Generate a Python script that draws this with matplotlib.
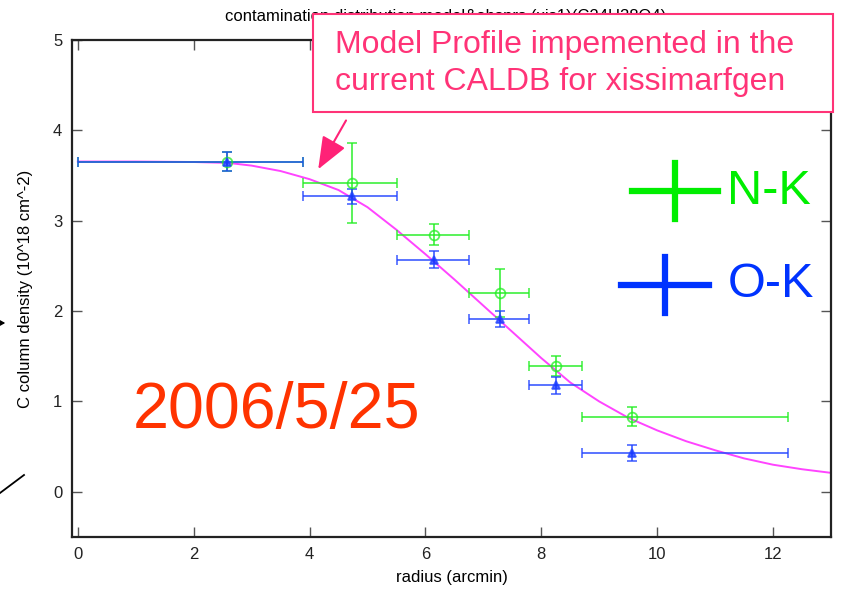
import numpy as np
import matplotlib
matplotlib.use("Agg")
import matplotlib.pyplot as plt
from matplotlib.patches import Rectangle, FancyArrowPatch
from matplotlib.lines import Line2D

plt.rcParams.update({
    "font.family": ["Liberation Sans", "DejaVu Sans"],
    "font.size": 12,
})

# N-K measurements
nk_r = [2.58, 4.74, 6.15, 7.28, 8.25, 9.57]
nk_c = [3.655, 3.415, 2.845, 2.197, 1.39, 0.833]
nk_cerr = [0.11, 0.44, 0.115, 0.265, 0.11, 0.11]

# O-K measurements
ok_r = [2.58, 4.74, 6.15, 7.28, 8.25, 9.57]
ok_c = [3.655, 3.27, 2.567, 1.915, 1.18, 0.427]
ok_cerr = [0.105, 0.085, 0.095, 0.09, 0.095, 0.09]

# radial bin edges (shared by both lines)
bin_lo = [0.0, 3.89, 5.51, 6.75, 7.78, 8.70]
bin_hi = [3.89, 5.51, 6.75, 7.78, 8.70, 12.25]

# model profile
model_r = [0, 1, 2, 2.6, 3.0, 3.5, 4.0, 4.5, 5.0, 5.5, 6.0, 6.5, 7.0,
           7.5, 8.0, 8.5, 9.0, 9.5, 10.0, 10.5, 11.0, 11.5, 12.0, 12.5, 13.0]
model_c = [3.655, 3.655, 3.65, 3.64, 3.61, 3.55, 3.46, 3.34, 3.15, 2.90,
           2.63, 2.35, 2.06, 1.77, 1.48, 1.21, 1.00, 0.82, 0.68, 0.56,
           0.46, 0.37, 0.30, 0.25, 0.21]

PINK = "#ff3377"

fig = plt.figure(figsize=(8.42, 5.92), dpi=100)
ax = fig.add_axes([0.0855, 0.0929, 0.9014, 0.8395])

ax.plot(model_r, model_c, color="#ff44ff", lw=1.4, zorder=1)


def bars(r, c, cerr, color, fmt, mfc, ms):
    r = np.array(r)
    xerr = [r - np.array(bin_lo), np.array(bin_hi) - r]
    ax.errorbar(r, c, yerr=cerr, xerr=xerr, fmt=fmt, color=color,
                ecolor=color, elinewidth=1.4, capsize=3.5, capthick=1.4,
                mfc=mfc, mec=color, ms=ms, mew=1.3, alpha=0.75, zorder=2)


bars(nk_r, nk_c, nk_cerr, "#22ee22", "o", "none", 7)
bars(ok_r, ok_c, ok_cerr, "#2244ff", "^", "#1133ff", 6)

ax.set_xlim(-0.1, 13)
ax.set_ylim(-0.5, 5.0)
ax.set_xticks(range(0, 13, 2))
ax.set_yticks(range(0, 6))
ax.tick_params(direction="in", length=7, width=1, color="#555555",
               top=True, right=True, labelsize=12, labelcolor="#222222",
               pad=7)
for s in ax.spines.values():
    s.set_linewidth(1.6)
    s.set_color("#222222")

ax.set_xlabel("radius (arcmin)", fontsize=12, labelpad=6)
ax.set_ylabel("C column density (10^18 cm^-2)", fontsize=12, labelpad=14)
fig.text(225 / 842, 1 - 16 / 592,
         "contamination distribution model&obsprs (xis1)(C24H38O4)",
         fontsize=12, ha="left", va="center")

# annotation box over the title
fig.add_artist(Rectangle((0.3717, 0.8108), 0.6176, 0.1655,
                         transform=fig.transFigure, facecolor="white",
                         edgecolor=PINK, lw=1.5, zorder=5))
fig.text(0.398, 0.8920, "Model Profile impemented in the\ncurrent CALDB for xissimarfgen",
         color=PINK, fontsize=23, va="center", ha="left", linespacing=1.3,
         zorder=6)

ax.add_patch(FancyArrowPatch((4.63, 4.11), (4.15, 3.57),
                             arrowstyle="-|>,head_length=2.0,head_width=0.8",
                             mutation_scale=10, color="#ff2277", lw=1.5,
                             shrinkA=0, shrinkB=0,
                             clip_on=False, zorder=6))

ax.text(0.95, 0.71, "2006/5/25", color="#ff3300", fontsize=46.5,
        va="baseline", ha="left")

# hand drawn legend
for (cx, cy, hw, hh, col, label, tx) in [
        (675, 191, 43, 28, "#00ee00", "N-K", 727),
        (665, 285, 44, 28, "#0033ff", "O-K", 728)]:
    fy = 1 - cy / 592
    fig.add_artist(Line2D([(cx - hw) / 842, (cx + hw) / 842], [fy, fy],
                          color=col, lw=4.5))
    fig.add_artist(Line2D([cx / 842, cx / 842],
                          [1 - (cy - hh) / 592, 1 - (cy + hh) / 592],
                          color=col, lw=4.5))
    fig.text(tx / 842, fy, label, color=col, fontsize=35, va="center",
             ha="left")

# stray slide marks at the left edge
fig.add_artist(Line2D([0, 24 / 842], [1 - 493 / 592, 1 - 475 / 592],
                      color="black", lw=1.3))
fig.add_artist(FancyArrowPatch((-10 / 842, 1 - 323 / 592), (8 / 842, 1 - 323 / 592),
                               transform=fig.transFigure,
                               arrowstyle="-|>,head_length=0.8,head_width=0.45",
                               mutation_scale=12, color="black", lw=1))

fig.savefig("out.png", dpi=100)
